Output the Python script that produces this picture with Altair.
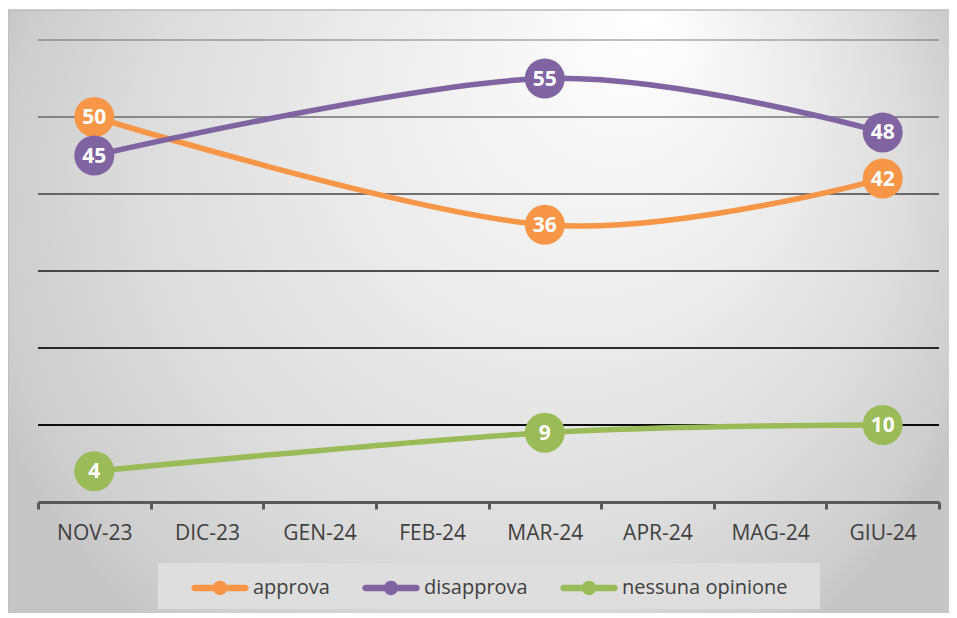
import altair as alt
import pandas as pd

# ---- data -------------------------------------------------------------
months = ["NOV-23", "DIC-23", "GEN-24", "FEB-24", "MAR-24", "APR-24", "MAG-24", "GIU-24"]
survey_months = ["NOV-23", "MAR-24", "GIU-24"]
series = ["approva", "disapprova", "nessuna opinione"]
approva = [50, 36, 42]
disapprova = [45, 55, 48]
nessuna_opinione = [4, 9, 10]
grid_values = [10, 20, 30, 40, 50, 60]

rows = []
for name, vals in zip(series, [approva, disapprova, nessuna_opinione]):
    for m, v in zip(survey_months, vals):
        rows.append({"mese": m, "serie": name, "valore": v})
df = pd.DataFrame(rows)
grid_df = pd.DataFrame({"g": grid_values})
one_df = pd.DataFrame({"k": [0]})

# ---- style ------------------------------------------------------------
colors = ["#F79646", "#8064A2", "#9BBB59"]
FONT = "Open Sans"
W, H = 901, 462

y_scale = alt.Scale(domain=[0, 60], nice=False, zero=True)
x_scale = alt.Scale(domain=months, type="band", paddingInner=0, paddingOuter=0)
color_scale = alt.Scale(domain=series, range=colors)

x_axis = alt.Axis(
    title=None, labelAngle=0, labelFont=FONT, labelFontSize=21,
    labelColor="#404040", labelPadding=13, domainColor="#595959",
    domainWidth=3, tickColor="#595959", tickWidth=3, tickSize=7,
    tickBand="extent", grid=False, zindex=1,
)

bg = alt.RadialGradient(
    gradient="radial",
    stops=[
        alt.GradientStop(color="#ffffff", offset=0),
        alt.GradientStop(color="#ebebeb", offset=0.45),
        alt.GradientStop(color="#dcdcdc", offset=0.74),
        alt.GradientStop(color="#d5d5d5", offset=0.84),
        alt.GradientStop(color="#cdcdcd", offset=0.95),
        alt.GradientStop(color="#c6c6c6", offset=1),
    ],
    x1=0.589, y1=0.0046, r1=0,
    x2=0.433, y2=0.1945, r2=0.477,
)

# chart area background (decoration)
background = alt.Chart(one_df).mark_rect(
    fill=bg, stroke="#bdbdbd", strokeWidth=1.5
).encode(
    x=alt.value(-30), x2=alt.value(1060),
    y=alt.value(-30), y2=alt.value(1060),
)

# legend box (decoration)
legend_box = alt.Chart(one_df).mark_rect(fill="#dedede").encode(
    x=alt.value(120), x2=alt.value(782),
    y=alt.value(523), y2=alt.value(569),
)

grid = alt.Chart(grid_df).mark_rule(strokeWidth=2, color="#000000").encode(
    y=alt.Y("g:Q", scale=y_scale, axis=None),
    opacity=alt.Opacity("g:Q", scale=alt.Scale(domain=[10, 60], range=[0.95, 0.24]), legend=None),
)

SYMBOL = ("M-0.885,-0.115 L0.885,-0.115 A0.115,0.115 0 0 1 0.885,0.115 "
          "L-0.885,0.115 A0.115,0.115 0 0 1 -0.885,-0.115 Z "
          "M0,-0.25 A0.25,0.25 0 1 1 0,0.25 A0.25,0.25 0 1 1 0,-0.25 Z")

base = alt.Chart(df)

x_enc = alt.X("mese:N", sort=months, scale=x_scale, axis=x_axis)
y_enc = alt.Y("valore:Q", scale=y_scale, axis=None)

lines = base.mark_line(interpolate="cardinal", strokeWidth=5.5, strokeCap="round").encode(
    x=x_enc, y=y_enc,
    stroke=alt.Stroke("serie:N", sort=series, scale=color_scale, legend=None),
    detail="serie:N",
)

points = base.mark_circle(size=1600, opacity=1).encode(
    x=x_enc, y=y_enc,
    color=alt.Color(
        "serie:N", sort=series, scale=color_scale,
        legend=alt.Legend(
            title=None, orient="none", legendX=153, legendY=519,
            direction="horizontal", symbolType=SYMBOL, symbolSize=3300,
            symbolStrokeWidth=0, symbolOpacity=1,
            labelFont=FONT, labelFontSize=20, labelColor="#404040",
            labelOffset=4, labelLimit=400, columnPadding=32, padding=0,
        ),
    ),
    order=alt.Order("serie:N"),
)

labels = base.mark_text(
    color="white", font=FONT, fontWeight="bold", fontSize=21,
    baseline="middle", align="center", dy=1,
).encode(
    x=x_enc, y=y_enc, text=alt.Text("valore:Q"),
)

chart = alt.layer(background, legend_box, grid, lines, points, labels).resolve_scale(
    color="independent", stroke="independent"
).properties(
    width=W, height=H,
    padding={"left": 30, "top": 32, "right": 10, "bottom": 111},
    autosize=alt.AutoSizeParams(type="none"),
).configure(
    background="white",
).configure_view(
    stroke=None,
)

chart.save("out.html", embed_options={"renderer": "svg", "actions": False})
